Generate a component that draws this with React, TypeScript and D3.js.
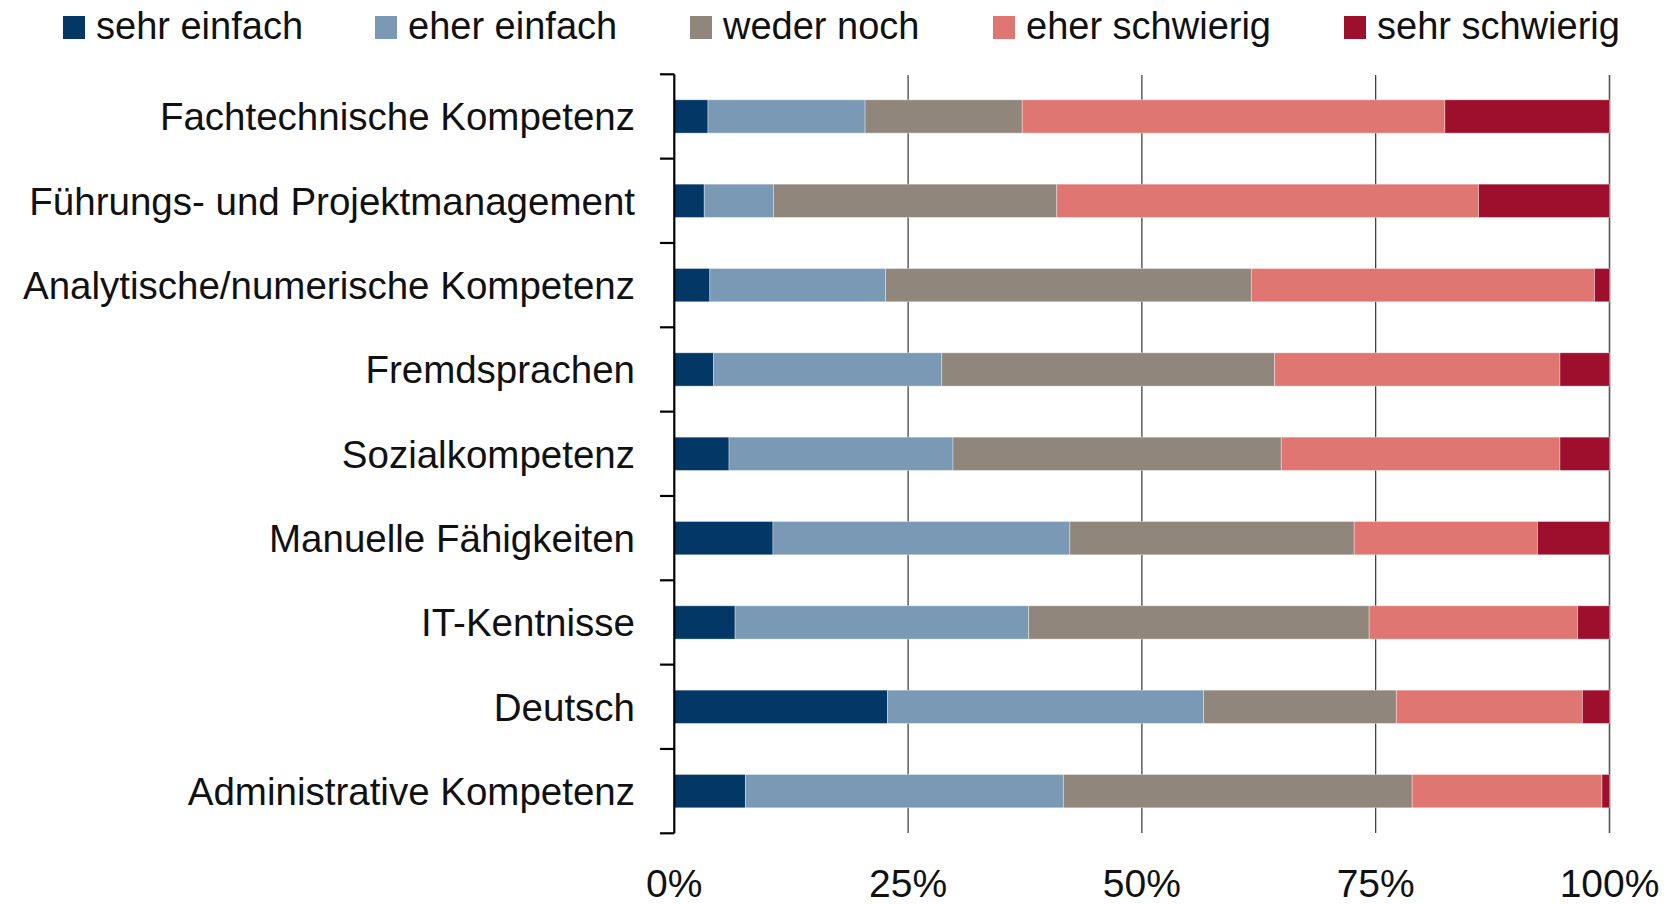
import React from "react";
import * as d3 from "d3";

const categories = [
  "Fachtechnische Kompetenz",
  "Führungs- und Projektmanagement",
  "Analytische/numerische Kompetenz",
  "Fremdsprachen",
  "Sozialkompetenz",
  "Manuelle Fähigkeiten",
  "IT-Kentnisse",
  "Deutsch",
  "Administrative Kompetenz",
];

const seriesNames = ["sehr einfach", "eher einfach", "weder noch", "eher schwierig", "sehr schwierig"];
const seriesColors = ["#033866", "#7A99B4", "#90867C", "#E07672", "#9E0F2E"];

const sehrEinfach = [3.6, 3.2, 3.8, 4.2, 5.85, 10.55, 6.5, 22.8, 7.6];
const eherEinfach = [16.8, 7.4, 18.8, 24.4, 23.95, 31.75, 31.4, 33.8, 34.0];
const wederNoch = [16.8, 30.3, 39.1, 35.6, 35.1, 30.4, 36.4, 20.6, 37.3];
const eherSchwierig = [45.2, 45.1, 36.7, 30.5, 29.8, 19.6, 22.3, 19.9, 20.3];
const sehrSchwierig = [17.6, 14.0, 1.6, 5.3, 5.3, 7.7, 3.4, 2.9, 0.8];

const xTicks = [0, 25, 50, 75, 100];
const xTickLabels = ["0%", "25%", "50%", "75%", "100%"];

const W = 1676;
const H = 904;
const FONT = "'Liberation Sans', Arial, sans-serif";

export default function App() {
  const table = categories.map((c, i) => ({
    cat: c,
    "sehr einfach": sehrEinfach[i],
    "eher einfach": eherEinfach[i],
    "weder noch": wederNoch[i],
    "eher schwierig": eherSchwierig[i],
    "sehr schwierig": sehrSchwierig[i],
  }));
  const stacked = d3.stack<any>().keys(seriesNames)(table);

  const x = d3.scaleLinear().domain([0, 100]).range([674.3, 1609.5]);
  const y = d3.scaleBand().domain(categories).range([74.3, 833.3]).padding(0);
  const barH = y.bandwidth() * 0.395;

  const legendX = [63, 375, 690, 993, 1344];
  const boundaries = categories.map((c) => y(c)!).concat([y.range()[1]]);

  return (
    <svg
      width={W}
      height={H}
      style={{ position: "absolute", left: 0, top: 0, background: "#fff" }}
      fontFamily={FONT}
    >
      {/* legend */}
      {seriesNames.map((s, i) => (
        <g key={s}>
          <rect x={legendX[i]} y={16} width={22} height={23} fill={seriesColors[i]} />
          <text x={legendX[i] + 33} y={39} fontSize={38} fill="#111" textLength={undefined}>
            {s}
          </text>
        </g>
      ))}

      {/* gridlines */}
      {xTicks.slice(1).map((t) => (
        <line
          key={t}
          x1={x(t)}
          x2={x(t)}
          y1={75}
          y2={833}
          stroke={t === 100 ? "#555" : "#222"}
          strokeWidth={t === 100 ? 1.6 : 1.1}
        />
      ))}

      {/* bars */}
      {stacked.map((layer, si) => (
        <g key={layer.key} fill={seriesColors[si]}>
          {layer.map((d, i) => (
            <rect
              key={i}
              x={x(d[0])}
              width={x(d[1]) - x(d[0])}
              y={y(categories[i])! + (y.bandwidth() - barH) / 2}
              height={barH}
              stroke="rgba(255,255,255,0.45)"
              strokeWidth={0.8}
            />
          ))}
        </g>
      ))}

      {/* y axis */}
      <line x1={674.3} x2={674.3} y1={74.3} y2={833.3} stroke="#000" strokeWidth={2.2} />
      {boundaries.map((b, i) => (
        <line key={i} x1={660} x2={674.3} y1={b} y2={b} stroke="#000" strokeWidth={2.2} />
      ))}

      {/* category labels */}
      {categories.map((c) => (
        <text
          key={c}
          x={635}
          y={y(c)! + y.bandwidth() / 2}
          dy="0.36em"
          textAnchor="end"
          fontSize={38.5}
          fill="#111"
        >
          {c}
        </text>
      ))}

      {/* x tick labels */}
      {xTicks.map((t, i) => (
        <text key={t} x={x(t)} y={897} textAnchor="middle" fontSize={39} fill="#111">
          {xTickLabels[i]}
        </text>
      ))}
    </svg>
  );
}
